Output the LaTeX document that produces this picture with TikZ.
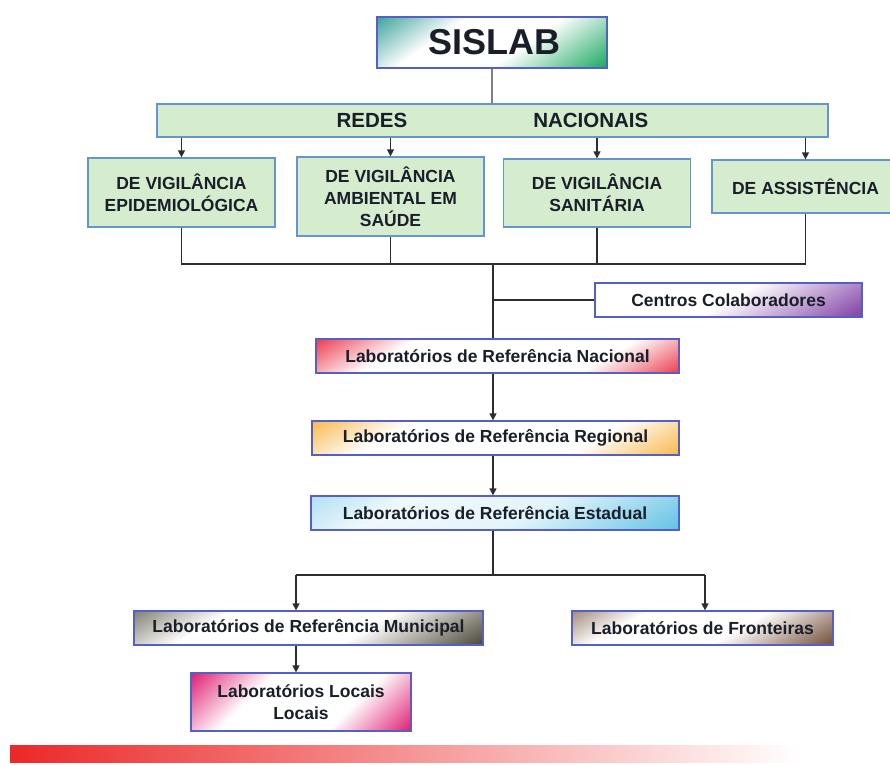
\documentclass[tikz,border=0pt]{standalone}
\usepackage{fontspec}
\setmainfont{Liberation Sans}
\usetikzlibrary{arrows.meta}
\definecolor{greenfill}{RGB}{214,236,206}
\definecolor{greenborder}{RGB}{100,150,205}
\definecolor{labborder}{RGB}{85,95,200}
\definecolor{lineclr}{RGB}{45,45,45}
\definecolor{txtclr}{RGB}{25,30,40}
\definecolor{sisteal}{RGB}{30,150,140}
\definecolor{sisgreen}{RGB}{30,170,100}
\definecolor{natred}{RGB}{232,40,60}
\definecolor{regorange}{RGB}{247,178,60}
\definecolor{estblue}{RGB}{100,195,230}
\definecolor{cenpurple}{RGB}{135,75,170}
\definecolor{munolive}{RGB}{75,72,55}
\definecolor{frobrown}{RGB}{115,78,58}
\definecolor{locmag}{RGB}{222,25,110}
\definecolor{barred}{RGB}{236,40,40}
% diagonal shadings: colour in the top-left and bottom-right corners, white between
\pgfdeclarehorizontalshading{natshade}{100bp}{color(0bp)=(natred); color(14bp)=(natred); color(32bp)=(white); color(68bp)=(white); color(86bp)=(natred); color(100bp)=(natred)}
\pgfdeclarehorizontalshading{regshade}{100bp}{color(0bp)=(regorange); color(14bp)=(regorange); color(32bp)=(white); color(66bp)=(white); color(86bp)=(regorange); color(100bp)=(regorange)}
\pgfdeclarehorizontalshading{estshade}{100bp}{color(0bp)=(estblue!60); color(12bp)=(estblue!60); color(32bp)=(white!90!estblue); color(56bp)=(white!82!estblue); color(84bp)=(estblue); color(100bp)=(estblue)}
\pgfdeclarehorizontalshading{munshade}{100bp}{color(0bp)=(munolive!85); color(12bp)=(munolive!85); color(32bp)=(white); color(60bp)=(white); color(84bp)=(munolive); color(100bp)=(munolive)}
\pgfdeclarehorizontalshading{froshade}{100bp}{color(0bp)=(frobrown!80); color(12bp)=(frobrown!80); color(32bp)=(white); color(58bp)=(white); color(84bp)=(frobrown); color(100bp)=(frobrown)}
\pgfdeclarehorizontalshading{censhade}{100bp}{color(0bp)=(white); color(50bp)=(white); color(82bp)=(cenpurple); color(100bp)=(cenpurple)}
\pgfdeclarehorizontalshading{locshade}{100bp}{color(0bp)=(locmag); color(14bp)=(locmag); color(36bp)=(white); color(64bp)=(white); color(86bp)=(locmag); color(100bp)=(locmag)}
\pgfdeclarehorizontalshading{sisshade}{100bp}{color(0bp)=(sisteal); color(12bp)=(sisteal); color(36bp)=(white); color(58bp)=(white); color(84bp)=(sisgreen); color(100bp)=(sisgreen)}
\tikzset{
  box/.style={draw=#1, line width=1.3pt, inner sep=0pt, align=center, text=txtclr},
  greenbox/.style={box=greenborder, fill=greenfill, minimum width=187pt,
    font=\bfseries\fontsize{17.5}{22}\selectfont},
  labbox/.style={box=labborder, minimum height=34pt,
    font=\bfseries\fontsize{17.5}{22}\selectfont},
  conn/.style={draw=lineclr, line width=1.3pt},
  arr/.style={conn, -{Triangle[length=7pt,width=7pt]}},
}
\begin{document}
\begin{tikzpicture}[x=1pt,y=-1pt]
\useasboundingbox (0,0) rectangle (890,764);
\fill[white] (0,0) rectangle (890,764);
% top
\node[box=labborder, shading=sisshade, shading angle=-55, minimum width=230pt, minimum height=51pt,
  font=\bfseries\fontsize{36}{40}\selectfont] (sislab) at (492,42.5) {\hspace{4pt}SISLAB};
\node[box=greenborder, fill=greenfill, minimum width=671pt, minimum height=33pt,
  font=\bfseries\fontsize{20.5}{22}\selectfont] (redes) at (492.5,120.5) {REDES\hspace{126pt}NACIONAIS};
\draw[conn, draw=gray] (sislab.south) -- (sislab.south |- redes.north);
% networks
\node[greenbox, minimum height=69pt] (g1) at (181.5,192.5) {DE VIGILÂNCIA\\EPIDEMIOLÓGICA};
\node[greenbox, minimum height=79pt] (g2) at (390.5,196.5) {DE VIGILÂNCIA\\AMBIENTAL EM\\SAÚDE};
\node[greenbox, minimum height=68pt] (g3) at (597,193) {DE VIGILÂNCIA\\SANITÁRIA};
\node[greenbox, minimum height=53pt] (g4) at (805.5,186.5) {DE ASSISTÊNCIA};
\foreach \g in {g1,g2,g3,g4}{
  \draw[arr] (\g.north |- redes.south) -- (\g.north);
}
\coordinate (hb) at (493,264);
\draw[conn] (g1.south) -- (g1.south |- hb) -- (g4.south |- hb) -- (g4.south);
\draw[conn] (g2.south) -- (g2.south |- hb);
\draw[conn] (g3.south) -- (g3.south |- hb);
% labs
\node[labbox, shading=censhade, shading angle=-60, minimum width=267pt] (cen) at (728.5,300) {Centros Colaboradores};
\node[labbox, shading=natshade, shading angle=-60, minimum width=363pt] (nat) at (497.5,356) {Laboratórios de Referência Nacional};
\node[labbox, shading=regshade, shading angle=-60, minimum width=367pt] (reg) at (495.5,438) {Laboratórios de Referência Regional};
\node[labbox, shading=estshade, shading angle=-60, minimum width=368pt] (est) at (495,513) {Laboratórios de Referência Estadual};
\node[labbox, shading=munshade, shading angle=-60, minimum width=349pt] (mun) at (308.5,628) {Laboratórios de Referência Municipal};
\node[labbox, shading=froshade, shading angle=-60, minimum width=261pt] (fro) at (702.5,628) {Laboratórios de Fronteiras};
\node[labbox, shading=locshade, shading angle=-45, minimum width=220pt, minimum height=58pt] (loc) at (301,702) {Laboratórios Locais\\Locais};
\draw[conn] (hb) -- (hb |- nat.north);
\draw[conn] (hb |- cen.west) -- (cen.west);
\draw[arr] (nat.south -| hb) -- (reg.north -| hb);
\draw[arr] (reg.south -| hb) -- (est.north -| hb);
\coordinate (sp) at (493,575);
\coordinate (sl) at (296,575);
\coordinate (sr) at (705,575);
\draw[conn] (est.south -| sp) -- (sp);
\draw[conn] (sl) -- (sr);
\draw[arr] (sl) -- (sl |- mun.north);
\draw[arr] (sr) -- (sr |- fro.north);
\draw[arr] (sl |- mun.south) -- (sl |- loc.north);
% bottom bar
\shade[left color=barred, right color=white] (10,745) rectangle (800,762);
\end{tikzpicture}
\end{document}
